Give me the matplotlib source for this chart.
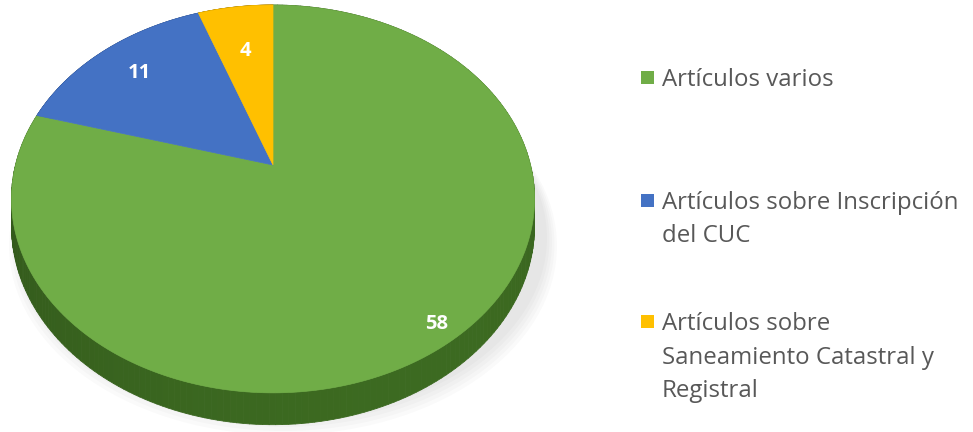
"""3D-style pie chart of article counts (Excel look) with a side legend."""

import numpy as np
import matplotlib
matplotlib.use("Agg")
import matplotlib.pyplot as plt
from matplotlib.collections import PolyCollection
from matplotlib.patches import Polygon, Ellipse

categories = [
    "Artículos varios",
    "Artículos sobre Inscripción\ndel CUC",
    "Artículos sobre\nSaneamiento Catastral y\nRegistral",
]
values = [58, 11, 4]
top_colors = ["#70AD47", "#4472C4", "#FFC000"]
side_colors = ["#3B6820", "#2F5597", "#BF9000"]
label_radius = [0.92, 0.78, 0.69]

# projection of the tilted disk into pixel space
CX, CY = 273.0, 165.0   # apex in pixels
UNIT = 257.5            # pixels per unit radius
PERSP = 0.175           # perspective strength
TILT = 0.73             # vertical squash
DEPTH = 0.102           # wall height


def project(x, y, z=0.0):
    s = 1.0 / (1.0 + PERSP * y)
    return CX + x * s * UNIT, CY - (y * TILT - z) * s * UNIT


fig = plt.figure(figsize=(9.73, 4.32), dpi=100)
ax = fig.add_axes([0, 0, 1, 1])
ax.set_xlim(0, 973)
ax.set_ylim(432, 0)
ax.axis("off")

# wedge angles, clockwise from 12 o'clock
fractions = np.array(values, dtype=float) / sum(values)
ends = 90 - 360 * np.cumsum(fractions)
starts = np.concatenate([[90.0], ends[:-1]])

# faint shadow under the pie
for i in range(5):
    ax.add_patch(Ellipse((CX + 10, 238 + i * 2), 528 + i * 5, 362 + i * 4,
                         facecolor="#000000", alpha=0.018, lw=0, zorder=1))

# side walls: small quads along every arc, shaded by angle
for start, end, scol in zip(starts, ends, side_colors):
    theta = np.radians(np.linspace(start, end, 240))
    quads, cols = [], []
    base = np.array(matplotlib.colors.to_rgb(scol))
    for t0, t1 in zip(theta[:-1], theta[1:]):
        pts = [project(np.cos(t0), np.sin(t0)), project(np.cos(t1), np.sin(t1)),
               project(np.cos(t1), np.sin(t1), DEPTH), project(np.cos(t0), np.sin(t0), DEPTH)]
        quads.append(pts)
        shade = 0.9 + 0.12 * np.cos((t0 + t1) / 2 + np.radians(60))
        cols.append(np.clip(base * shade, 0, 1))
    ax.add_collection(PolyCollection(quads, facecolors=cols, edgecolors=cols, lw=0.6, zorder=2))

# top faces
for start, end, tcol in zip(starts, ends, top_colors):
    theta = np.radians(np.linspace(start, end, 300))
    pts = [project(0, 0)] + [project(np.cos(t), np.sin(t)) for t in theta]
    ax.add_patch(Polygon(pts, closed=True, facecolor=tcol, edgecolor=tcol, lw=0.5, zorder=3))

# value labels
for start, end, val, r in zip(starts, ends, values, label_radius):
    mid = np.radians((start + end) / 2)
    lx, ly = project(r * np.cos(mid), r * np.sin(mid))
    ax.text(lx, ly, str(val), color="white", fontsize=14.5, fontweight="bold",
            family="Open Sans", ha="center", va="center", zorder=5)

# legend: square marker beside the first line of each entry
legend_y = [77, 200, 321]
line_step = 33.5
for cat, col, y in zip(categories, top_colors, legend_y):
    ax.add_patch(plt.Rectangle((641, y - 6.5), 13, 13, facecolor=col, lw=0, zorder=4))
    for i, line in enumerate(cat.split("\n")):
        ax.text(662, y + i * line_step, line, color="#585858", fontsize=17.3,
                family="Open Sans", ha="left", va="center_baseline", zorder=4)

fig.savefig("out.png", dpi=100)
